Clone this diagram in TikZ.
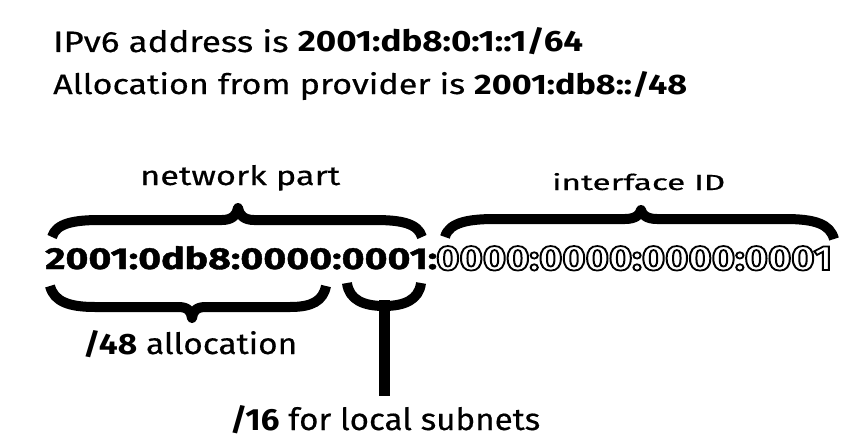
\documentclass[tikz,border=0pt]{standalone}
\usepackage{fontspec}
\setmainfont{Fira Sans}[UprightFeatures={FakeBold=0.4}]
\newfontfamily\heavyfont{Fira Sans}[BoldFeatures={FakeBold=1.2}]
\tikzset{
  lbl/.style={inner sep=0pt, anchor=base west},
  bracestroke/.style={line width=10pt, line join=round, line cap=butt},
}
\newcommand{\fitbox}[3]{\resizebox{#1pt}{#2pt}{\fontsize{32}{38}\selectfont #3}}
\newcommand{\outlinetext}[1]{\special{pdf:literal direct 1 Tr 1.6 w}#1\special{pdf:literal direct 0 Tr}}
\begin{document}
\begin{tikzpicture}[x=1pt,y=-1pt]
\useasboundingbox (0,0) rectangle (859,439);
% headline
\node[lbl] (t1) at (53,52) {\fitbox{530}{24}{IPv6 address is \textbf{2001:db8:0:1::1/64}}};
\node[lbl] (t2) at (53,94) {\fitbox{634}{23}{Allocation from provider is \textbf{2001:db8::/48}}};
% labels above
\node[lbl] (net) at (140,185) {\fitbox{200}{20}{network part}};
\node[lbl] (intf) at (552,190) {\fitbox{173}{17}{interface ID}};
% address
\node[lbl] (addr) at (45,269) {\fitbox{392}{23}{{\heavyfont\bfseries 2001:0db8:0000:0001:}}};
\node[lbl] (iid) at (436,270) {\fitbox{396}{24}{\bfseries\outlinetext{0000:0000:0000:0001}}};
% labels below
\node[lbl] (a48) at (83,354) {\fitbox{214}{24}{\textbf{/48} allocation}};
\node[lbl] (a16) at (230,430) {\fitbox{310}{25}{\textbf{/16} for local subnets}};
% network part brace
\draw[bracestroke] (52,237) .. controls (56,223) and (75,220) .. (100,220) -- (222,220)
   .. controls (232,220) and (237,215) .. (238,208) .. controls (239,215) and (244,220) .. (254,220)
   -- (375,220) .. controls (400,220) and (418,223) .. (422,237);
% interface ID brace
\draw[bracestroke] (445,237) .. controls (449,222) and (470,219) .. (495,219) -- (625,219)
   .. controls (635,219) and (640,215) .. (641,210) .. controls (642,215) and (647,219) .. (657,219)
   -- (785,219) .. controls (815,219) and (830,224) .. (834,239);
% /48 brace
\draw[bracestroke] (50,286) .. controls (54,302) and (70,307) .. (95,307) -- (178,307)
   .. controls (188,307) and (191,311) .. (192,318) .. controls (193,311) and (196,307) .. (206,307)
   -- (290,307) .. controls (312,307) and (323,301) .. (326,286);
% /16 brace
\draw[bracestroke] (347,283) .. controls (349,300) and (364,306) .. (384,306)
   .. controls (404,306) and (419,300) .. (421,283);
\draw[line width=11pt] (384,300) -- (384,396);
\end{tikzpicture}
\end{document}
